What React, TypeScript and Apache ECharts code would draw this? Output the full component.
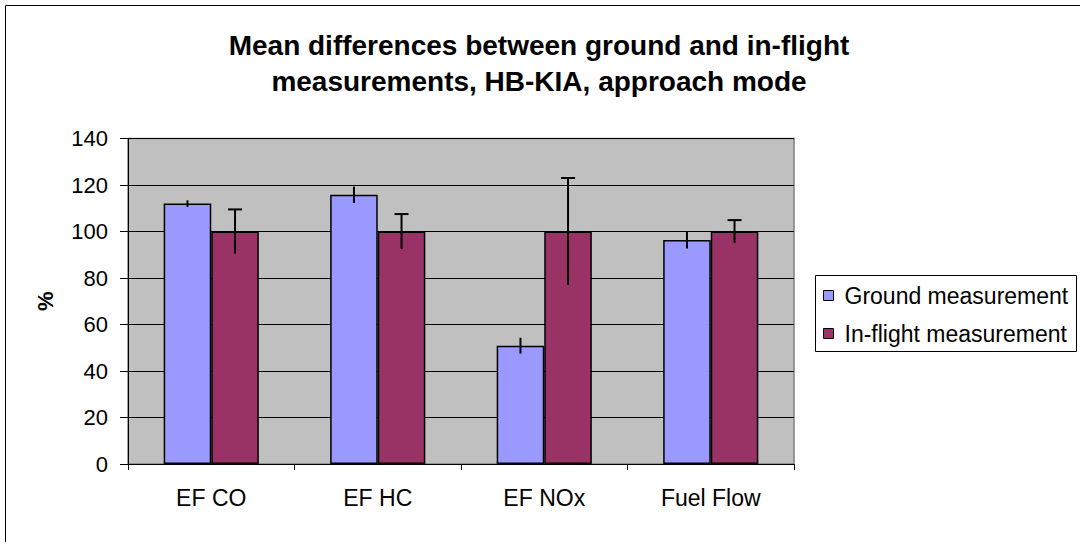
import React, { useEffect, useRef } from "react";
import * as echarts from "echarts";

const titleLines = [
  "Mean differences between ground and in-flight",
  "measurements, HB-KIA, approach mode",
];
const categories = ["EF CO", "EF HC", "EF NOx", "Fuel Flow"];
const seriesNames = ["Ground measurement", "In-flight measurement"];
const groundValues = [112, 115.8, 50.9, 96.3];
const groundErrors = [1.4, 3.5, 3.4, 3.6];
const inflightValues = [100, 100, 100, 100];
const inflightErrors = [9.5, 7.5, 23, 4.9];
const yMin = 0;
const yMax = 140;
const yInterval = 20;
const yAxisName = "%";

const FONT = 'Arial, "Liberation Sans", sans-serif';

function errorSeries(values: number[], errors: number[], side: number, cap: boolean) {
  return {
    type: "custom",
    z: 5,
    silent: true,
    data: values.map((v, i) => [i, v, errors[i]]),
    encode: { x: 0, y: 1 },
    renderItem: (params: any, api: any) => {
      const idx = api.value(0);
      const v = api.value(1);
      const e = api.value(2);
      const band = api.size([1, 0])[0];
      const cx = api.coord([idx, v])[0] + (side * band) / 7;
      const yTop = api.coord([idx, v + e])[1];
      const yBot = api.coord([idx, v - e])[1];
      const style = { stroke: "#000", lineWidth: 2 };
      const children: any[] = [
        { type: "line", shape: { x1: cx, y1: yTop, x2: cx, y2: yBot }, style },
      ];
      if (cap) {
        children.push({
          type: "line",
          shape: { x1: cx - 7, y1: yTop, x2: cx + 7, y2: yTop },
          style,
        });
      }
      return { type: "group", children };
    },
  };
}

export default function App() {
  const ref = useRef<HTMLDivElement>(null);
  useEffect(() => {
    if (!ref.current) return;
    const chart = echarts.init(ref.current, null, { renderer: "svg" });
    chart.setOption({
      animation: false,
      backgroundColor: "#fff",
      textStyle: { fontFamily: FONT },
      title: {
        text: titleLines.join("\n"),
        left: 534,
        textAlign: "center",
        top: 22,
        textStyle: {
          fontFamily: FONT,
          fontSize: 28,
          fontWeight: "bold",
          color: "#000",
          lineHeight: 36,
        },
      },
      graphic: [
        {
          type: "rect",
          shape: { x: 5.5, y: 5.5, width: 1200, height: 700 },
          style: { fill: "none", stroke: "#000", lineWidth: 1 },
          silent: true,
        },
        {
          type: "rect",
          shape: { x: 815.5, y: 275.5, width: 261, height: 76 },
          style: { fill: "#fff", stroke: "#000", lineWidth: 1 },
          silent: true,
          z: -1,
        },
      ],
      legend: {
        orient: "vertical",
        left: 823,
        top: 284,
        padding: 0,
        itemGap: 15,
        itemWidth: 10,
        itemHeight: 10,
        icon: "rect",
        data: seriesNames,
        itemStyle: { borderColor: "#000", borderWidth: 1 },
        textStyle: { fontFamily: FONT, fontSize: 23, color: "#000", padding: [0, 0, 0, 6] },
      },
      grid: {
        left: 128,
        top: 138.5,
        right: 286,
        bottom: 78,
        show: true,
        backgroundColor: "#C0C0C0",
        borderColor: "#808080",
        borderWidth: 1.5,
      },
      xAxis: {
        type: "category",
        data: categories,
        axisLine: { lineStyle: { color: "#000", width: 1 } },
        axisTick: { show: true, length: 6, lineStyle: { color: "#000" } },
        axisLabel: { fontFamily: FONT, fontSize: 23, color: "#000", margin: 22 },
      },
      yAxis: {
        type: "value",
        min: yMin,
        max: yMax,
        interval: yInterval,
        name: yAxisName,
        nameLocation: "middle",
        nameRotate: 90,
        nameGap: 72,
        nameTextStyle: { fontFamily: FONT, fontSize: 22, fontWeight: "bold", color: "#000" },
        axisLine: { show: true, lineStyle: { color: "#000", width: 1 } },
        axisTick: { show: true, length: 8, lineStyle: { color: "#000" } },
        axisLabel: { fontFamily: FONT, fontSize: 22, color: "#000", margin: 20 },
        splitLine: { show: true, lineStyle: { color: "#000", width: 1 } },
      },
      series: [
        {
          name: seriesNames[0],
          type: "bar",
          data: groundValues,
          barGap: "0%",
          barCategoryGap: "42.86%",
          itemStyle: { color: "#9999FF", borderColor: "#000", borderWidth: 1.5 },
        },
        {
          name: seriesNames[1],
          type: "bar",
          data: inflightValues,
          barGap: "0%",
          barCategoryGap: "42.86%",
          itemStyle: { color: "#993366", borderColor: "#000", borderWidth: 1.5 },
        },
        errorSeries(groundValues, groundErrors, -1, false),
        errorSeries(inflightValues, inflightErrors, 1, true),
      ],
    });
    return () => chart.dispose();
  }, []);
  return (
    <div
      ref={ref}
      style={{ position: "fixed", left: 0, top: 0, width: 1080, height: 542, background: "#fff" }}
    />
  );
}
